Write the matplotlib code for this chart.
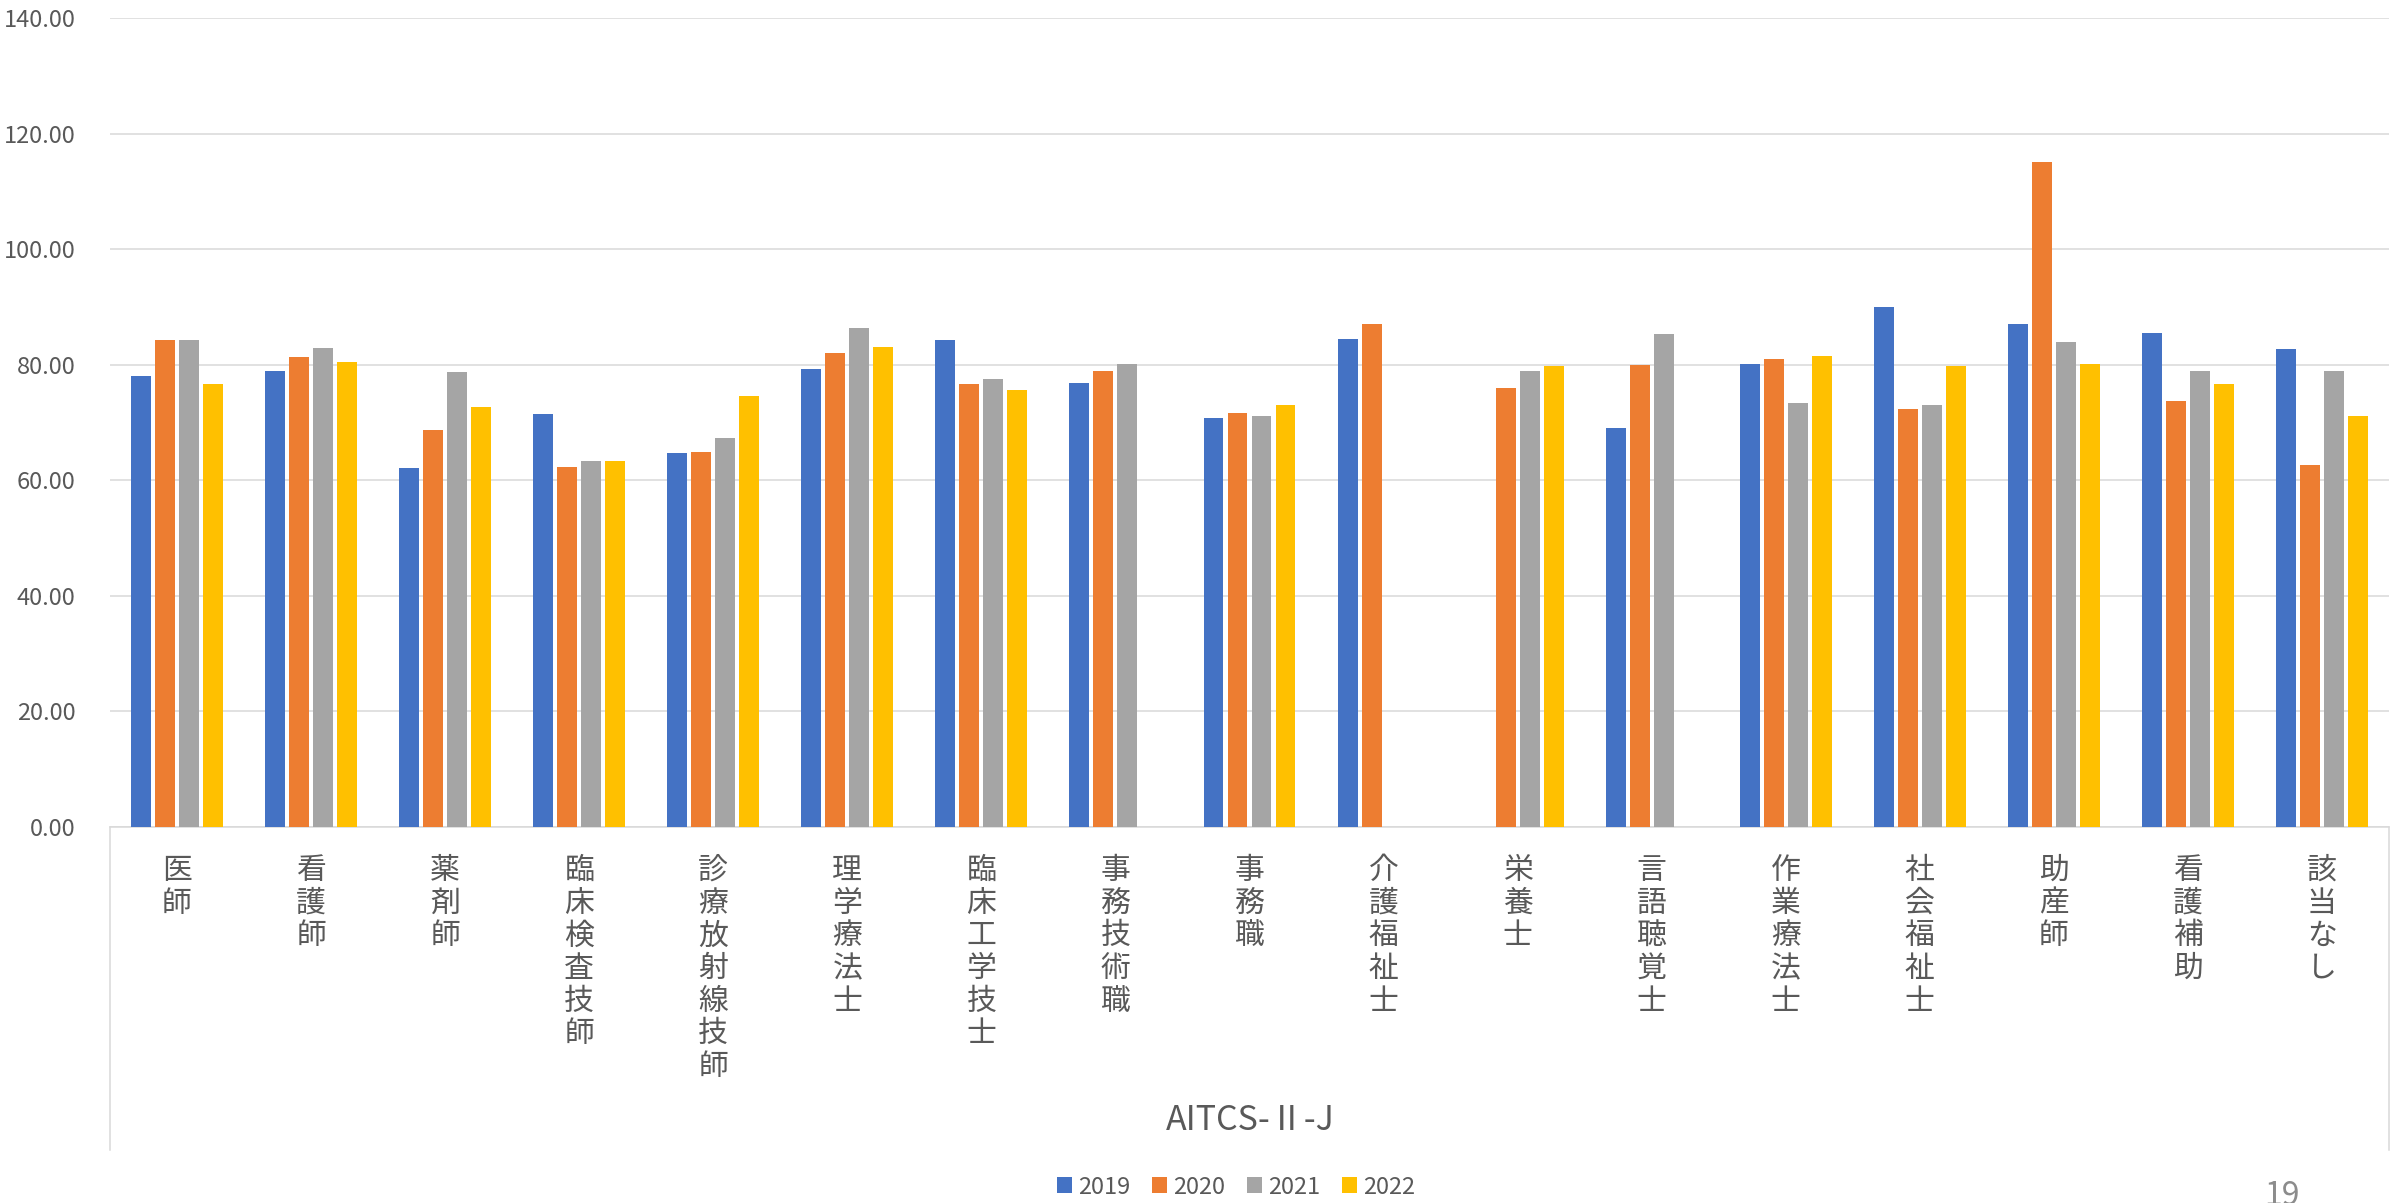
import numpy as np
import matplotlib
matplotlib.use("Agg")
import matplotlib.pyplot as plt
from matplotlib.patches import Patch

plt.rcParams['font.family'] = ['Noto Sans CJK JP', 'DejaVu Sans']

# data
categories = ['医師', '看護師', '薬剤師', '臨床検査技師', '診療放射線技師', '理学療法士',
              '臨床工学技士', '事務技術職', '事務職', '介護福祉士', '栄養士', '言語聴覚士',
              '作業療法士', '社会福祉士', '助産師', '看護補助', '該当なし']
years = ['2019', '2020', '2021', '2022']
nan = np.nan
v2019 = [78.0, 78.9, 62.2, 71.4, 64.8, 79.2, 84.2, 76.9, 70.8, 84.5, nan, 69.0, 80.1, 90.0, 87.0, 85.5, 82.7]
v2020 = [84.2, 81.3, 68.7, 62.3, 64.9, 82.0, 76.7, 78.9, 71.6, 87.0, 75.9, 79.9, 81.0, 72.3, 115.0, 73.8, 62.7]
v2021 = [84.3, 82.9, 78.8, 63.4, 67.4, 86.3, 77.6, 80.1, 71.1, nan, 78.9, 85.3, 73.3, 73.0, 84.0, 78.9, 78.9]
v2022 = [76.7, 80.4, 72.6, 63.4, 74.6, 83.0, 75.6, nan, 73.0, nan, 79.7, nan, 81.5, 79.7, 80.1, 76.7, 71.1]
group_label = 'AITCS-Ⅱ-J'
yticks = [0, 20, 40, 60, 80, 100, 120, 140]

series = [v2019, v2020, v2021, v2022]
colors = ['#4472C4', '#ED7D31', '#A5A5A5', '#FFC000']
text_color = '#595959'
grid_color = '#D9D9D9'

W, H = 2407, 1203
fig = plt.figure(figsize=(W / 100, H / 100), dpi=100)
ax_left, ax_right, ax_top, ax_bot = 110, 2389, 18, 827
ax = fig.add_axes([ax_left / W, 1 - ax_bot / H, (ax_right - ax_left) / W, (ax_bot - ax_top) / H])
ax_h = ax_bot - ax_top

x = np.arange(len(categories))
pitch = 0.179
width = 0.149
for i, (vals, c) in enumerate(zip(series, colors)):
    ax.bar(x + (i - 1.5) * pitch, vals, width=width, color=c, zorder=3)

ax.set_xlim(-0.5, len(categories) - 0.5)
ax.set_ylim(0, 140)
ax.set_yticks(yticks)
ax.set_yticklabels([f'{t:.2f}' for t in yticks], fontsize=17, color=text_color)
ax.set_xticks([])
ax.tick_params(axis='y', length=0, pad=25)
ax.grid(axis='y', color=grid_color, linewidth=1.1, zorder=0)
ax.set_axisbelow(True)
for s in ['top', 'left', 'right']:
    ax.spines[s].set_visible(False)
ax.spines['bottom'].set_color(grid_color)
ax.spines['bottom'].set_linewidth(1.1)

# vertical category labels, one character per line
for xi, name in zip(x, categories):
    ax.text(xi, -28 / ax_h, '\n'.join(name), transform=ax.get_xaxis_transform(),
            ha='center', va='top', fontsize=21.5, color=text_color, linespacing=1.07)

# box lines of the multi-level category axis
drop = -(1150 - ax_bot) / ax_h
for xa in [0, 1]:
    ax.plot([xa, xa], [0, drop], transform=ax.transAxes, color=grid_color,
            linewidth=1.1, clip_on=False)

fig.text(1250 / W, 1 - 1120 / H, group_label, ha='center', va='center',
         fontsize=24.5, color=text_color)

handles = [Patch(facecolor=c, label=y) for c, y in zip(colors, years)]
fig.legend(handles=handles, loc='center', bbox_to_anchor=(1236 / W, 1 - 1187 / H),
           ncol=4, frameon=False, fontsize=17, handlelength=0.63, handleheight=0.63,
           handletextpad=0.25, columnspacing=0.93, labelcolor=text_color,
           borderpad=0, borderaxespad=0)

# page number at the lower right, cut by the edge as in the slide
fig.text(2264 / W, 1 - 1180 / H, '19', ha='left', va='top', fontsize=23, color='#8C8C8C')

fig.savefig('out.png', dpi=100, facecolor='white')
